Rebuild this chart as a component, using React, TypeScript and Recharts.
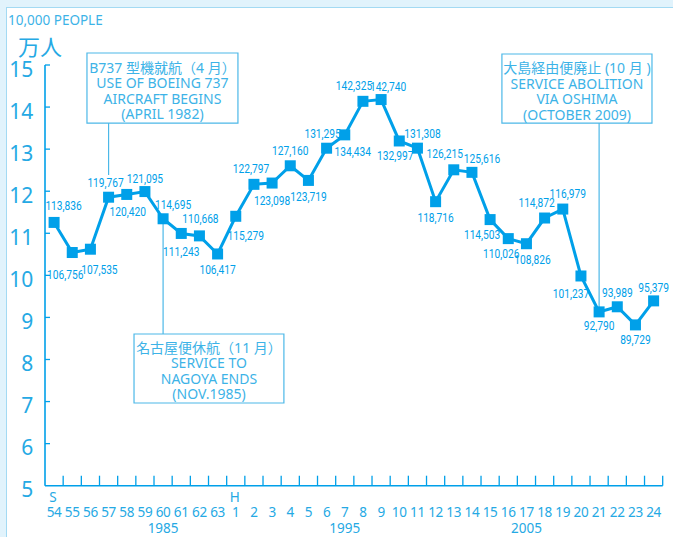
import React from 'react';
import { LineChart, Line, XAxis, YAxis, ReferenceArea, ReferenceLine, LabelList } from 'recharts';

// ---- data ----
const eraLabels = ['S', '', '', '', '', '', '', '', '', '', 'H', '', '', '', '', '', '', '', '', '', '', '', '', '', '', '', '', '', '', '', '', '', '', ''];
const yearLabels = ['54', '55', '56', '57', '58', '59', '60', '61', '62', '63', '1', '2', '3', '4', '5', '6', '7', '8', '9', '10', '11', '12', '13', '14', '15', '16', '17', '18', '19', '20', '21', '22', '23', '24'];
const westernYearLabels = ['', '', '', '', '', '', '1985', '', '', '', '', '', '', '', '', '', '1995', '', '', '', '', '', '', '', '', '', '2005', '', '', '', '', '', '', ''];
const passengers = [113836, 106756, 107535, 119767, 120420, 121095, 114695, 111243, 110668, 106417, 115279, 122797, 123098, 127160, 123719, 131295, 134434, 142325, 142740, 132997, 131308, 118716, 126215, 125616, 114503, 110026, 108826, 114872, 116979, 101237, 92790, 93989, 89729, 95379];
const yTicks = [5, 6, 7, 8, 9, 10, 11, 12, 13, 14, 15];

// label placement relative to each marker [dx, dy]
const labelPlacement: [number, number][] = [
  [9.5, -17], [-7, 22], [9, 20], [-3, -15], [1, 17], [0, -13], [10, -14], [0, 18], [1, -17], [0, 16],
  [10, 19], [-3, -16], [0, 18], [0, -15], [0, 16], [-4, -15], [8, 17], [-9, -16], [7, -13], [-4, 15],
  [5, -14], [0, 16], [-9, -16], [10, -14], [-8, 15], [-7, 15], [6, 16], [-8, -15], [5, -15], [-10, 18],
  [0, 14], [0, -14], [0, 15], [0, -13],
];

const notes = [
  { lines: ['B737 型機就航（4 月）', 'USE OF BOEING 737', 'AIRCRAFT BEGINS', '(APRIL 1982)'], x1: 2.31, x2: 10.62, y1: 13.62, y2: 15.285, lineX: 3.5, lineFrom: 13.62, lineTo: 12.385 },
  { lines: ['名古屋便休航（11 月）', 'SERVICE TO', 'NAGOYA ENDS', '(NOV.1985)'], x1: 4.9, x2: 13.15, y1: 6.966, y2: 8.606, lineX: 6.5, lineFrom: 8.606, lineTo: 11.36 },
  { lines: ['大島経由便廃止 (10 月 )', 'SERVICE ABOLITION', 'VIA OSHIMA', '(OCTOBER 2009)'], x1: 25.15, x2: 33.41, y1: 13.62, y2: 15.262, lineX: 30.5, lineFrom: 13.62, lineTo: 9.129 },
];

const data = passengers.map((p, i) => ({ x: i + 0.5, v: p / 10000, people: p }));
const xTicks: number[] = [];
for (let i = 0; i <= yearLabels.length * 2; i++) xTicks.push(i / 2);

// ---- styles ----
const C = '#00a0e9';
const TXT = '#25a9e4';
const NOTE_TXT = '#3db3e7';
const FONT = "'Noto Sans', 'Noto Sans CJK JP', sans-serif";

const XTick = (props: any) => {
  const { x, y, payload } = props;
  const v = payload.value;
  if (Math.abs(v - Math.round(v)) < 1e-6) {
    if (Math.round(v) === 0) return <g />;
    return <line x1={x} x2={x} y1={y} y2={y - 10} stroke={C} strokeWidth={1.3} />;
  }
  const i = Math.round(v - 0.5);
  return (
    <g fontFamily={FONT} fill={TXT} textAnchor="middle">
      {eraLabels[i] ? <text x={x - 1} y={y + 16} fontSize={13.5}>{eraLabels[i]}</text> : null}
      <text x={x} y={y + 31.3} fontSize={13.5} letterSpacing={-0.3}>{yearLabels[i]}</text>
      {westernYearLabels[i] ? <text x={x} y={y + 47.3} fontSize={13.5}>{westernYearLabels[i]}</text> : null}
    </g>
  );
};

const YTick = (props: any) => {
  const { x, y, payload } = props;
  return (
    <g>
      {payload.value !== 5 ? <line x1={x} x2={x + 5} y1={y} y2={y} stroke={C} strokeWidth={1.3} /> : null}
      <text x={x - 11.7} y={y + 11.5} textAnchor="end" fontSize={21} fontFamily={FONT} fill={TXT}>{payload.value}</text>
    </g>
  );
};

const renderLabel = (props: any) => {
  const vb = props.viewBox || {};
  const x = props.x ?? vb.x;
  const y = props.y ?? vb.y;
  const value = props.value;
  const i = typeof props.index === 'number' ? props.index : passengers.indexOf(value);
  const [dx, dy] = labelPlacement[i] || [0, -14];
  return (
    <text
      transform={`translate(${x + dx},${y + dy + 4.3}) scale(0.85,1)`}
      textAnchor="middle"
      fontSize={12}
      fontFamily="Roboto, sans-serif"
      fill={C}
    >
      {Number(value).toLocaleString('en-US')}
    </text>
  );
};

const renderDot = (p: any) => (
  <rect key={`d${p.index}`} x={p.cx - 5.5} y={p.cy - 5.5} width={11} height={11} fill={C} />
);

const NoteLabel = (props: any) => {
  const { viewBox, lines } = props;
  const cx = viewBox.x + viewBox.width / 2;
  const cy = viewBox.y + viewBox.height / 2;
  const offs = [-20.5, -5, 10.5, 26];
  return (
    <g fontFamily={FONT} fill={NOTE_TXT} textAnchor="middle" fontSize={14}>
      {lines.map((l: string, k: number) => (
        <text key={k} x={cx} y={cy + offs[k] + 5}>{l}</text>
      ))}
    </g>
  );
};

export default function App() {
  return (
    <div style={{ position: 'absolute', left: 0, top: 0, width: 673, height: 537, overflow: 'hidden' }}>
      <svg width={673} height={537} style={{ position: 'absolute', left: 0, top: 0 }}>
        <rect x={0} y={0} width={673} height={537} fill="#e1f3fc" />
        <rect x={6.5} y={7.5} width={680} height={540} fill="#ffffff" stroke="#a3daf3" strokeWidth={1} />
        <text x={8} y={25} fontSize={13.5} fontFamily={FONT} fill={NOTE_TXT}>10,000 PEOPLE</text>
        <text x={18} y={55} fontSize={22} fontFamily={FONT} fill={TXT}>万人</text>
      </svg>
      <div style={{ position: 'absolute', left: 0, top: 0 }}>
        <LineChart width={673} height={537} data={data} margin={{ top: 65, right: 10.3, bottom: 0, left: 0 }}>
          <XAxis
            dataKey="x"
            type="number"
            domain={[0, 34]}
            ticks={xTicks}
            interval={0}
            tickLine={false}
            tickSize={0}
            tickMargin={0}
            height={51.3}
            axisLine={{ stroke: C, strokeWidth: 1.6 }}
            tick={(p: any) => <XTick {...p} />}
          />
          <YAxis
            yAxisId="main"
            orientation="left"
            type="number"
            domain={[5, 15]}
            ticks={yTicks}
            interval={0}
            width={45}
            tickLine={false}
            tickSize={0}
            tickMargin={0}
            axisLine={{ stroke: C, strokeWidth: 1.6 }}
            tick={(p: any) => <YTick {...p} />}
          />
          <YAxis yAxisId="data" orientation="right" width={0} type="number" hide domain={[5.19, 15.087]} />
          {/* carrier series so the visible scale is registered; draws nothing */}
          <Line yAxisId="main" dataKey="v" stroke="none" strokeWidth={0} dot={false} activeDot={false} isAnimationActive={false} legendType="none" />
          {notes.map((n, k) => (
            <ReferenceLine
              key={`l${k}`}
              yAxisId="main"
              ifOverflow="visible"
              segment={[{ x: n.lineX, y: n.lineFrom }, { x: n.lineX, y: n.lineTo }]}
              stroke="#4cb8e8"
              strokeWidth={1.2}
            />
          ))}
          {notes.map((n, k) => (
            <ReferenceArea
              key={`a${k}`}
              yAxisId="main"
              x1={n.x1}
              x2={n.x2}
              y1={n.y1}
              y2={n.y2}
              ifOverflow="visible"
              fill="#ffffff"
              fillOpacity={1}
              stroke="#4cb8e8"
              strokeWidth={1.2}
              label={<NoteLabel lines={n.lines} />}
            />
          ))}
          <Line
            yAxisId="data"
            dataKey="v"
            type="linear"
            stroke={C}
            strokeWidth={3}
            dot={renderDot}
            activeDot={false}
            isAnimationActive={false}
          >
            <LabelList dataKey="people" content={renderLabel} />
          </Line>
        </LineChart>
      </div>
    </div>
  );
}
